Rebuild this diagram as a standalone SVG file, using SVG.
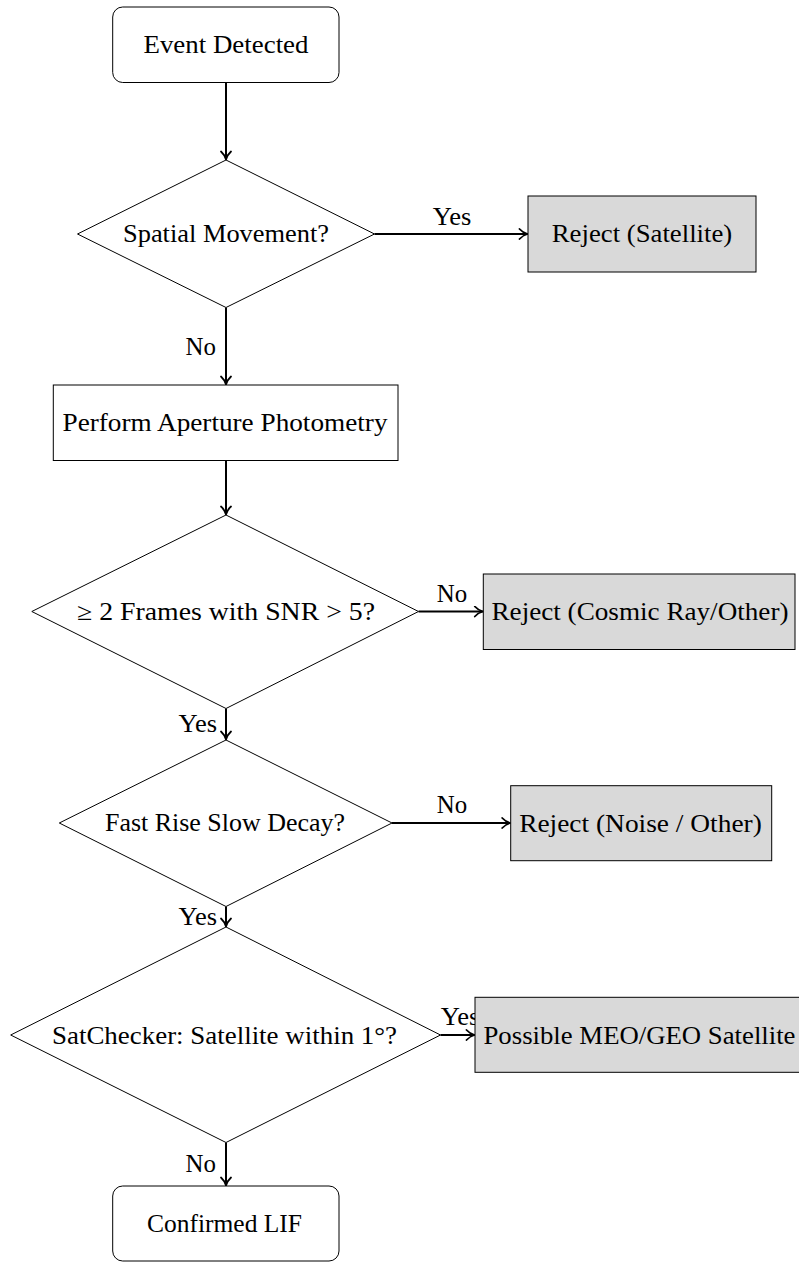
<svg xmlns="http://www.w3.org/2000/svg" width="799" height="1263" viewBox="0 0 799 1263">
<defs>
<style>
text{font-family:'Liberation Serif','DejaVu Serif','Times New Roman',serif;font-size:24.3px;fill:#000}
.t{text-anchor:middle}
.n{fill:#fff;stroke:#000;stroke-width:1}
.rej{fill:#d9d9d9;stroke:#000;stroke-width:1}
.c{fill:none;stroke:#000;stroke-width:2;marker-end:url(#arr)}
</style>
<marker id="arr" viewBox="-10 -6 12 12" refX="0" refY="0" markerWidth="12" markerHeight="12" orient="auto" markerUnits="userSpaceOnUse">
<path d="M-8,-5 C-5.5,-2.2 -2.4,-0.7 0,0 C-2.4,0.7 -5.5,2.2 -8,5" fill="none" stroke="#000" stroke-width="1.8" stroke-linecap="round" stroke-linejoin="round"/>
</marker>
</defs>
<rect width="799" height="1263" fill="#fff"/>

<g id="connectors" font-family="Liberation Serif, DejaVu Serif, serif">
<path class="c" d="M226,82.5 V159.5"/>
<path class="c" d="M374.5,234 H527.5"/>
<text x="452" y="225" text-anchor="middle" textLength="38.6" lengthAdjust="spacingAndGlyphs">Yes</text>
<path class="c" d="M226,307.5 V384.5"/>
<text x="216" y="355" text-anchor="end" textLength="30.4" lengthAdjust="spacingAndGlyphs">No</text>
<path class="c" d="M226,460.5 V514.5"/>
<path class="c" d="M418.5,611.5 H482.8"/>
<text x="452" y="602" text-anchor="middle" textLength="30.4" lengthAdjust="spacingAndGlyphs">No</text>
<path class="c" d="M226,708.5 V739.5"/>
<text x="217" y="732" text-anchor="end" textLength="38.6" lengthAdjust="spacingAndGlyphs">Yes</text>
<path class="c" d="M392,823 H510.2"/>
<text x="452" y="813" text-anchor="middle" textLength="30.4" lengthAdjust="spacingAndGlyphs">No</text>
<path class="c" d="M226,906.5 V926.5"/>
<text x="217" y="925" text-anchor="end" textLength="38.6" lengthAdjust="spacingAndGlyphs">Yes</text>
<path class="c" d="M440.5,1035 H474.5"/>
<text x="460" y="1025" text-anchor="middle" textLength="38.6" lengthAdjust="spacingAndGlyphs">Yes</text>
<path class="c" d="M226,1142.5 V1185.5"/>
<text x="216" y="1172" text-anchor="end" textLength="30.4" lengthAdjust="spacingAndGlyphs">No</text>
</g>

<g id="event-detected">
<rect class="n" x="112.7" y="7" width="226.3" height="75.5" rx="10" ry="10"/>
<text class="t" x="226" y="53" textLength="165" lengthAdjust="spacingAndGlyphs">Event Detected</text>
</g>

<g id="spatial-movement">
<polygon class="n" points="226,160 374.5,234 226,307.5 77.5,234"/>
<text class="t" x="226" y="242" textLength="206" lengthAdjust="spacingAndGlyphs">Spatial Movement?</text>
</g>

<g id="reject-satellite">
<rect class="rej" x="528" y="196" width="228" height="76"/>
<text class="t" x="642" y="242" textLength="180.5" lengthAdjust="spacingAndGlyphs">Reject (Satellite)</text>
</g>

<g id="aperture-photometry">
<rect class="n" x="53.3" y="385" width="344.7" height="75.5"/>
<text class="t" x="225" y="430.5" textLength="325" lengthAdjust="spacingAndGlyphs">Perform Aperture Photometry</text>
</g>

<g id="snr-check">
<polygon class="n" points="226,515 418.5,611.5 226,708.5 31.8,611.5"/>
<text class="t" x="226" y="620" textLength="298" lengthAdjust="spacingAndGlyphs">≥ 2 Frames with SNR &gt; 5?</text>
</g>

<g id="reject-cosmic">
<rect class="rej" x="483.3" y="574" width="311.7" height="75.5"/>
<text class="t" x="640" y="620" textLength="297" lengthAdjust="spacingAndGlyphs">Reject (Cosmic Ray/Other)</text>
</g>

<g id="fast-rise">
<polygon class="n" points="226,740 392,823 226,906.5 59.3,823"/>
<text class="t" x="225" y="831" textLength="240" lengthAdjust="spacingAndGlyphs">Fast Rise Slow Decay?</text>
</g>

<g id="reject-noise">
<rect class="rej" x="510.7" y="785.7" width="261" height="75"/>
<text class="t" x="640.5" y="831.5" textLength="242.7" lengthAdjust="spacingAndGlyphs">Reject (Noise / Other)</text>
</g>

<g id="satchecker">
<polygon class="n" points="226,927 440.5,1035 226,1142.5 10.7,1035"/>
<text class="t" x="224.5" y="1043.5" textLength="345" lengthAdjust="spacingAndGlyphs">SatChecker: Satellite within 1°?</text>
</g>

<g id="meo-geo">
<rect class="rej" x="475" y="997.3" width="330" height="75"/>
<text class="t" x="639.5" y="1043.5" textLength="312" lengthAdjust="spacingAndGlyphs">Possible MEO/GEO Satellite</text>
</g>

<g id="confirmed-lif">
<rect class="n" x="112.7" y="1186" width="226.3" height="75" rx="10" ry="10"/>
<text class="t" x="224.5" y="1232" textLength="155" lengthAdjust="spacingAndGlyphs">Confirmed LIF</text>
</g>
</svg>
